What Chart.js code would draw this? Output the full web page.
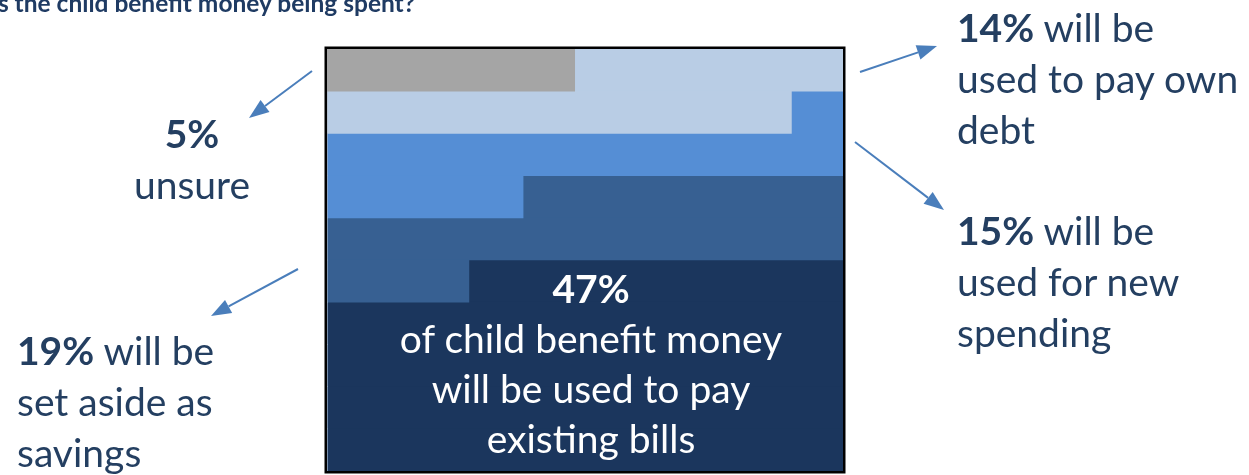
<!DOCTYPE html>
<html>
<head>
<meta charset="utf-8">
<script src="https://cdn.jsdelivr.net/npm/chart.js@4.4.0/dist/chart.umd.min.js"></script>
<style>
  html, body { margin: 0; padding: 0; background: #ffffff; }
  #wrap { position: relative; width: 1249px; height: 475px; overflow: hidden; }
  #c { position: absolute; left: 0; top: 0; }
  .lbl { position: absolute; font-family: Lato, "Open Sans", sans-serif; font-size: 39px;
         line-height: 51px; color: #243F61; white-space: nowrap; }
  .lbl b { font-weight: 700; }
  #title { position: absolute; right: 834px; top: -12px; font-family: Lato, sans-serif;
           font-weight: 700; font-size: 24.5px; line-height: 1.2; color: #1F3B63; white-space: nowrap; }
</style>
</head>
<body>
<div id="wrap">
  <canvas id="c" width="1249" height="475"></canvas>
  <div id="title">How is the child benefit money being spent?</div>
  <div class="lbl" style="left:92px; width:200px; top:108px; text-align:center;"><b>5%</b><br>unsure</div>
  <div class="lbl" style="left:957px; top:2px;"><b>14%</b> will be<br>used to pay own<br>debt</div>
  <div class="lbl" style="left:957px; top:205px;"><b>15%</b> will be<br>used for new<br>spending</div>
  <div class="lbl" style="left:17px; top:325px;"><b>19%</b> will be<br>set aside as<br>savings</div>
  <div class="lbl" style="left:341px; width:500px; top:263px; text-align:center; color:#ffffff; line-height:50px;"><b>47%</b><br>of child benefit money<br>will be used to pay<br>existing bills</div>
</div>
<script>
// Rows of the 10x10 grid, top to bottom; each row holds 10 percentage points
const rows = ['Row 10', 'Row 9', 'Row 8', 'Row 7', 'Row 6', 'Row 5', 'Row 4', 'Row 3', 'Row 2', 'Row 1'];
// Share of each row taken by each category (percentage points), left to right
const unsure      = [4.8, 0,   0,  0,   0,  0,    0,  0,  0,  0];
const ownDebt     = [5.2, 9.0, 0,  0,   0,  0,    0,  0,  0,  0];
const newSpending = [0,   1.0, 10, 3.8, 0,  0,    0,  0,  0,  0];
const savings     = [0,   0,   0,  6.2, 10, 2.75, 0,  0,  0,  0];
const bills       = [0,   0,   0,  0,   0,  7.25, 10, 10, 10, 10];
const seriesNames = ['Unsure', 'Pay own debt', 'New spending', 'Savings', 'Existing bills'];

const frame = {
  id: 'frame',
  afterDatasetsDraw(chart) {
    const a = chart.chartArea, ctx = chart.ctx;
    ctx.save();
    ctx.strokeStyle = '#000000';
    ctx.lineWidth = 2.5;
    ctx.strokeRect(a.left - 1.25, a.top - 1.25, a.right - a.left + 2.5, a.bottom - a.top + 2.5);
    ctx.restore();
  }
};

function arrow(ctx, x1, y1, x2, y2) {
  const ang = Math.atan2(y2 - y1, x2 - x1);
  const len = 20, half = 7.5;
  const bx = x2 - len * Math.cos(ang), by = y2 - len * Math.sin(ang);
  ctx.beginPath();
  ctx.moveTo(x1, y1);
  ctx.lineTo(bx, by);
  ctx.stroke();
  ctx.beginPath();
  ctx.moveTo(x2, y2);
  ctx.lineTo(bx + half * Math.sin(ang), by - half * Math.cos(ang));
  ctx.lineTo(bx - half * Math.sin(ang), by + half * Math.cos(ang));
  ctx.closePath();
  ctx.fill();
}

const arrows = {
  id: 'arrows',
  afterDraw(chart) {
    const ctx = chart.ctx;
    ctx.save();
    ctx.strokeStyle = '#4A7EBB';
    ctx.fillStyle = '#4A7EBB';
    ctx.lineWidth = 2;
    arrow(ctx, 312, 71, 249, 118);
    arrow(ctx, 860, 72, 937, 46);
    arrow(ctx, 855, 142, 944, 210);
    arrow(ctx, 298, 269, 211, 316);
    ctx.restore();
  }
};

const colors = ['#A5A5A5', '#B9CDE5', '#558ED5', '#376092', '#1B365D'];
const values = [unsure, ownDebt, newSpending, savings, bills];

new Chart(document.getElementById('c'), {
  type: 'bar',
  data: {
    labels: rows,
    datasets: values.map((v, i) => ({
      label: seriesNames[i],
      data: v,
      backgroundColor: colors[i],
      borderWidth: 0,
      barPercentage: 1,
      categoryPercentage: 1
    }))
  },
  options: {
    indexAxis: 'y',
    responsive: false,
    animation: false,
    events: [],
    layout: { padding: { left: 327, right: 406, top: 49, bottom: 4 } },
    scales: {
      x: { stacked: true, min: 0, max: 10, display: false },
      y: { stacked: true, display: false }
    },
    plugins: { legend: { display: false }, tooltip: { enabled: false } }
  },
  plugins: [frame, arrows]
});
</script>
</body>
</html>
